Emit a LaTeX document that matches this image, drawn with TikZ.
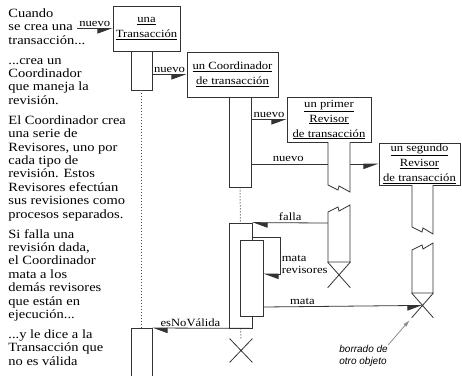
\documentclass[tikz,border=0pt]{standalone}
\usepackage{fontspec}
\setmainfont{Liberation Serif}[FakeStretch=1.15]
\setsansfont{Liberation Sans}
\usetikzlibrary{arrows.meta, positioning, shapes.misc}

\tikzset{
  obj/.style={draw=black!80, fill=white, align=center, inner sep=1pt, font=\fontsize{11}{15}\selectfont},
  actbar/.style={draw=black!80, fill=white, minimum width=22pt, inner sep=0pt},
  torn/.style={draw=black!80, fill=white},
  msgr/.style={draw=black!80, -{Triangle[right, length=14pt, width=10pt]}},
  msgl/.style={draw=black!80, -{Triangle[left, length=14pt, width=10pt]}},
  lbl/.style={inner sep=1.5pt, font=\fontsize{11}{12}\selectfont},
  life/.style={draw=black!70, dotted, line width=1pt},
  kill/.style={cross out, draw=black!80, inner sep=0pt},
  note/.style={anchor=north west, align=left, inner sep=0pt, font=\fontsize{12.6}{13.4}\selectfont},
}

\begin{document}
\begin{tikzpicture}[x=1pt, y=-1pt, line width=0.8pt]
\useasboundingbox (0,0) rectangle (462,375);
\clip (0,0) rectangle (462,375);

% comments on the left
\node[note] (txtA) at (8,7.6) {\strut Cuando\\se crea una\\transacción...};
\node[note] (txtB) at (8,54.4) {\strut ...crea un\\Coordinador\\que maneja la\\revisión.};
\node[note] (txtC) at (8,114.6) {\strut El Coordinador crea\\una serie de\\Revisores, uno por\\cada tipo de\\revisión. Estos\\Revisores efectúan\\sus revisiones como\\procesos separados.};
\node[note] (txtD) at (8,228.4) {\strut Si falla una\\revisión dada,\\el Coordinador\\mata a los\\demás revisores\\que están en\\ejecución...};
\node[note] (txtE) at (8,328.8) {\strut ...y le dice a la\\Transacción que\\no es válida};

% the objects
\node[obj, minimum width=67pt, minimum height=45pt] (trans) at (146.5,28.5) {\underline{una}\\\underline{Transacción}};
\node[obj, minimum width=91pt, minimum height=45pt] (coord) at (232.5,74.5) {\underline{un Coordinador}\\\underline{de transacción}};
\node[obj, minimum width=84pt, minimum height=45pt] (rev1) at (329,119.5) {\underline{un primer}\\\underline{Revisor}\\\underline{de transacción}};
\node[obj, minimum width=81pt, minimum height=42pt] (rev2) at (419.5,164) {\underline{un segundo}\\\underline{Revisor}\\\underline{de transacción}};

% Transaccion
\node[actbar, minimum width=21pt, minimum height=39pt] (tbar1) at (141.5,70.5) {};
\node[actbar, minimum width=21pt, minimum height=60pt, anchor=north] (tbar2) at (141.5,328) {};
\draw[life] (tbar1.south) -- (tbar2.north);

% Coordinador
\node[actbar, minimum height=90pt] (cbar1) at (240,142) {};
\node[actbar, minimum width=23pt, minimum height=105pt] (cbar2) at (240.5,275.5) {};
\node[actbar, minimum width=23pt, minimum height=76pt] (cbar3) at (251.5,278) {};
\node[kill, minimum width=22pt, minimum height=23pt] (cx) at (241,350.5) {};
\draw[life] (cbar1.south) -- (cbar2.north);
\draw[life] (cbar2.south) -- (cx.north);

% creation messages
\coordinate (start) at (77,28.5);
\draw[msgr] (start) -- (trans.west) node[lbl, midway, above] {nuevo};
\draw[msgr] (tbar1.east |- coord.west) -- (coord.west) node[lbl, midway, above] {nuevo};
\draw[msgr] (cbar1.east |- rev1.west) -- (rev1.west) node[lbl, midway, above] {nuevo};
\draw[msgr] (cbar1.east |- rev2.west) -- (rev2.west) node[lbl, pos=0.29, above] {nuevo};

% first Revisor
\draw[torn] (328,142) -- (328,185) -- (338,190) -- (339,186) -- (350,192) -- (350,142);
\draw[torn] (328,262) -- (328,212) -- (338,207) -- (339,211) -- (350,205) -- (350,262) -- cycle;
\node[kill, minimum width=22pt, minimum height=25pt, anchor=north] (r1x) at (339,262) {};
\coordinate (r1b) at (328,223);

% second Revisor
\draw[torn] (412,185) -- (412,227) -- (422,232) -- (423,228) -- (433,234) -- (433,185);
\draw[torn] (412,293) -- (412,250) -- (422,245) -- (423,249) -- (433,243) -- (433,293) -- cycle;
\node[kill, minimum width=21pt, minimum height=24pt, anchor=north] (r2x) at (422.5,293) {};

% failure and kills
\coordinate (loop) at (280,237);
\coordinate (loopend) at (280,274);
\draw[msgl] (r1b) -- (cbar2.north east) node[lbl, midway, above] {falla};
\draw[msgl] (cbar2.east |- loop) -- (loop) -- (loopend)
  node[lbl, pos=0.73, right, align=left] {mata\\revisores}
  -- (cbar3.east |- loopend);
\draw[msgr] (cbar3.east |- 0,307) -- (r2x.center) node[lbl, pos=0.245, above] {mata};
\draw[msgl] (cbar2.south east) -- (tbar2.north east) node[lbl, pos=0.62, above] {esNoVálida};

% note on deletion
\node[anchor=west, align=left, inner sep=0pt, font=\fontsize{10}{12}\sffamily\itshape] (borrado) at (339,356) {borrado de\\otro objeto};
\draw[draw=black!45, -{Latex[length=7pt, width=4pt]}, shorten >=3pt] (borrado.north east) -- (r2x.south west);
\end{tikzpicture}
\end{document}
